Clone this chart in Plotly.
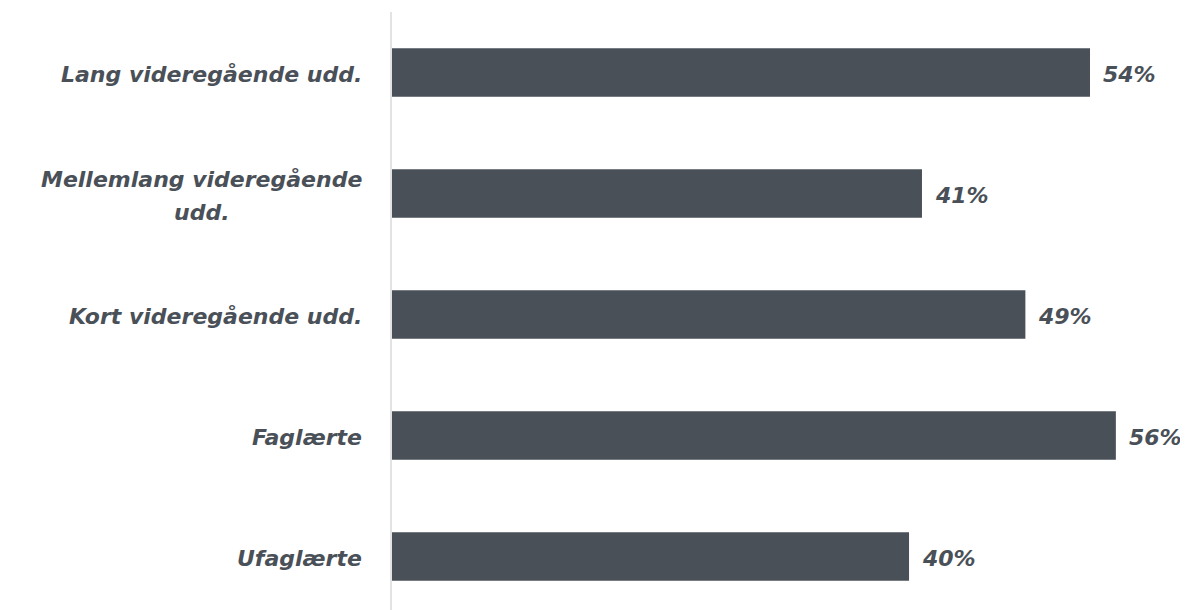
import plotly.graph_objects as go

categories = ["Lang videregående udd.", "Mellemlang videregående<br>udd.",
              "Kort videregående udd.", "Faglærte", "Ufaglærte"]
values = [54, 41, 49, 56, 40]

TXT = "#4a5058"
BAR = "#4a5058"
FONT = "DejaVu Sans"
SIZE = 22
LINE_GAP = 33
FIRST_LINE_CENTER = -190  # px offset of wrapped-line centre from the axis

fig = go.Figure(go.Bar(
    y=list(range(len(categories))), x=values, orientation="h",
    marker=dict(color=BAR, line=dict(width=0)), width=0.4,
    cliponaxis=False,
))

lab_font = dict(family=FONT, size=SIZE, color=TXT, style="italic", weight="bold")
for i, c in enumerate(categories):
    lines = c.split("<br>")
    n = len(lines)
    for k, ln in enumerate(lines):
        shift = ((n - 1) / 2 - k) * LINE_GAP
        fig.add_annotation(x=0, xref="paper", y=i, yref="y", text=ln, showarrow=False,
                           xanchor="right" if k == 0 else "center",
                           xshift=-28 if k == 0 else FIRST_LINE_CENTER, yshift=shift - 2,
                           font=lab_font)
    fig.add_annotation(x=values[i], xref="x", y=i, yref="y", text=f"{values[i]}%", showarrow=False,
                       xanchor="left", xshift=11, yshift=-2, font=lab_font)

fig.update_layout(
    width=1188, height=610, margin=dict(l=384, r=0, t=4, b=0),
    plot_bgcolor="white", paper_bgcolor="white", showlegend=False,
    xaxis=dict(range=[0, 62.2], visible=False, fixedrange=True),
    yaxis=dict(range=[4.508, -0.5], showticklabels=False, showgrid=False, zeroline=False,
               showline=True, linecolor="#e3e3e3", linewidth=2),
)
fig.write_html("out.html")
